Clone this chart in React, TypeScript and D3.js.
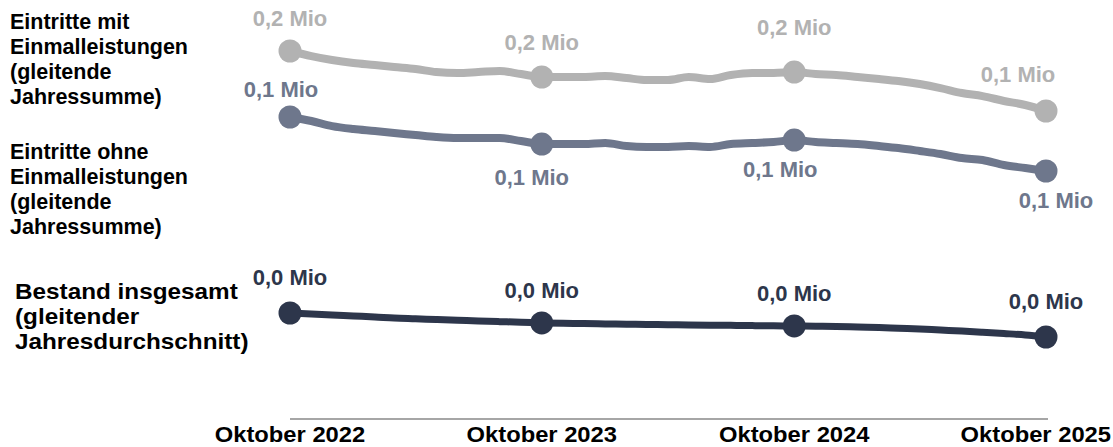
import { useMemo } from 'react';
import * as d3 from 'd3';

// monthly values, Oktober 2022 .. Oktober 2025 (in thousand persons)
const mitEinmal = [
  200.0, 195.7, 192.3, 189.8, 188.1, 186.4, 184.7, 182.1, 181.3, 182.1, 183.0, 180.4,
  177.9, 177.9, 177.9, 178.7, 177.0, 175.3, 175.3, 177.9, 176.2, 179.6, 181.3, 181.3,
  182.1, 180.4, 179.6, 177.9, 176.2, 174.5, 171.9, 168.5, 164.3, 161.7, 157.5, 154.1,
  149.0,
];
const ohneEinmal = [
  143.9, 140.5, 136.2, 133.7, 132.0, 130.3, 128.6, 126.9, 126.0, 126.0, 126.0, 123.5,
  120.9, 120.9, 120.9, 121.8, 119.2, 118.4, 118.4, 119.2, 118.4, 120.9, 121.8, 122.6,
  124.3, 122.6, 121.8, 120.9, 119.2, 117.5, 115.0, 112.4, 109.0, 107.3, 103.1, 100.5,
  98.0,
];
const bestand = [
  44.0, 43.2, 42.3, 41.5, 40.7, 39.8, 39.2, 38.6, 38.0, 37.3, 36.8, 36.3,
  35.7, 35.4, 35.2, 34.9, 34.7, 34.4, 34.3, 34.0, 33.8, 33.7, 33.5, 33.3,
  33.2, 33.0, 32.8, 32.3, 31.9, 31.3, 30.7, 29.8, 29.0, 28.0, 26.9, 25.7,
  24.0,
];

const tickLabels = ['Oktober 2022', 'Oktober 2023', 'Oktober 2024', 'Oktober 2025'];
const markerIndex = [0, 12, 24, 36];

const legendMit = ['Eintritte mit', 'Einmalleistungen', '(gleitende', 'Jahressumme)'];
const legendOhne = ['Eintritte ohne', 'Einmalleistungen', '(gleitende', 'Jahressumme)'];
const legendBestand = ['Bestand insgesamt', '(gleitender', 'Jahresdurchschnitt)'];

const W = 1113;
const H = 447;
const FONT = 'Liberation Sans, Arial, Helvetica, sans-serif';

const de = d3.formatLocale({
  decimal: ',',
  thousands: '.',
  grouping: [3],
  currency: ['', ' €'],
});
const fmt = (v: number) => `${de.format('.1f')(v / 1000)} Mio`;

export default function App() {
  const months = useMemo(
    () => d3.timeMonth.range(new Date(2022, 9, 1), new Date(2025, 10, 1)),
    []
  );

  const x = d3
    .scaleTime()
    .domain([months[0], months[months.length - 1]])
    .range([290, 1046]);

  // Eintritte share one scale, Bestand sits in its own band below
  const yTop = d3.scaleLinear().domain([149, 200]).range([111, 51]);
  const yBottom = d3.scaleLinear().domain([24, 44]).range([337, 313]);

  const series = [
    {
      values: mitEinmal,
      y: yTop,
      color: '#b2b2b2',
      width: 8,
      dx: [0, 0, 0, -28],
      dy: [-25, -27, -37, -29],
    },
    {
      values: ohneEinmal,
      y: yTop,
      color: '#6e778c',
      width: 8,
      dx: [-9, -10, -14, 10],
      dy: [-20, 41, 37, 37],
    },
    {
      values: bestand,
      y: yBottom,
      color: '#2d364b',
      width: 7,
      dx: [0, 0, 0, 0],
      dy: [-28, -25, -25, -28],
    },
  ];

  const legends = [
    { lines: legendMit, x: 10, y: 29, sx: 1 },
    { lines: legendOhne, x: 10, y: 159, sx: 1 },
    { lines: legendBestand, x: 15, y: 299, sx: 1.13 },
  ];

  return (
    <svg
      width={W}
      height={H}
      style={{ position: 'absolute', left: 0, top: 0, background: '#fff' }}
      fontFamily={FONT}
      fontWeight="bold"
    >
      {legends.map((g, gi) => (
        <text
          key={gi}
          x={0}
          y={0}
          fontSize={21.5}
          fill="#000"
          transform={`translate(${g.x},${g.y}) scale(${g.sx},1)`}
        >
          {g.lines.map((l, i) => (
            <tspan key={i} x={0} dy={i === 0 ? 0 : 25}>
              {l}
            </tspan>
          ))}
        </text>
      ))}

      {series.map((s, si) => {
        const line = d3
          .line<number>()
          .x((_, i) => x(months[i]))
          .y((d) => s.y(d))
          .curve(d3.curveMonotoneX);
        return (
          <g key={si}>
            <path
              d={line(s.values) ?? ''}
              fill="none"
              stroke={s.color}
              strokeWidth={s.width}
              strokeLinejoin="round"
              strokeLinecap="round"
            />
            {markerIndex.map((mi, k) => {
              const cx = x(months[mi]);
              const cy = s.y(s.values[mi]);
              return (
                <g key={k}>
                  <circle cx={cx} cy={cy} r={11.5} fill={s.color} />
                  <text
                    x={cx + s.dx[k]}
                    y={cy + s.dy[k]}
                    textAnchor="middle"
                    fontSize={22}
                    fill={s.color}
                  >
                    {fmt(s.values[mi])}
                  </text>
                </g>
              );
            })}
          </g>
        );
      })}

      <line x1={290} x2={1048} y1={419} y2={419} stroke="#888" strokeWidth={1.5} />
      {markerIndex.map((mi, k) => {
        const last = k === markerIndex.length - 1;
        const tx = last ? W - 2 : x(months[mi]);
        return (
          <text
            key={k}
            x={0}
            y={0}
            transform={`translate(${tx},442) scale(1.08,1)`}
            textAnchor={last ? 'end' : 'middle'}
            fontSize={22}
            fill="#000"
          >
            {tickLabels[k]}
          </text>
        );
      })}
    </svg>
  );
}
